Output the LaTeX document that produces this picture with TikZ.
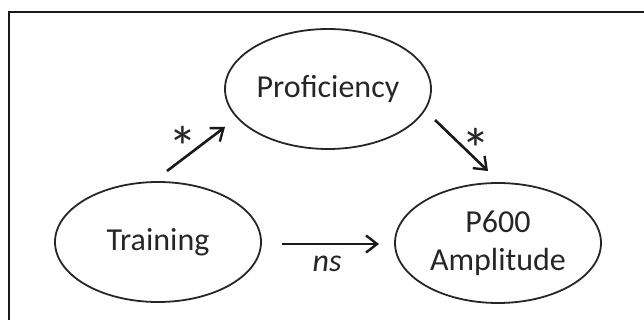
\documentclass[tikz,border=0pt]{standalone}
\usepackage{fontspec}
\setmainfont{Carlito}
\usetikzlibrary{shapes.geometric,arrows.meta}
\begin{document}
\begin{tikzpicture}[x=1pt,y=-1pt,
  var/.style={ellipse,draw=black!85,line width=1.8pt,minimum width=206pt,minimum height=120pt,inner sep=0pt,font=\fontsize{32}{36}\selectfont,align=center,text=black!85},
  conn/.style={line width=2.6pt,draw=black!90,-{Straight Barb[length=11pt,width=17pt,line width=2.4pt]}},
  lab/.style={font=\fontsize{32}{36}\selectfont,text=black!85,inner sep=0pt},
  star/.style={font=\fontsize{58}{60}\selectfont,text=black!85,inner sep=0pt}]
\useasboundingbox (0,0) rectangle (644,320);
\draw[line width=2.2pt,black!90] (9,320) -- (9,12) -- (644,12);
\node[var] (P) at (328,89) {Proficiency};
\node[var] (T) at (158,242) {Training};
\node[var] (A) at (498,243) {P600\\[2pt]Amplitude};
\coordinate (a1) at (167,171);
\coordinate (a2) at (225,127);
\coordinate (b1) at (435,120);
\coordinate (b2) at (488,171);
\coordinate (c1) at (282,244);
\coordinate (c2) at (379,244);
\draw[conn] (a1) -- (a2);
\draw[conn] (b1) -- (b2);
\draw[conn] (c1) -- (c2);
\node[star] (s1) at (183,147) {*};
\node[star] (s2) at (476,149) {*};
\node[lab] (ns) at (327,264) {\itshape ns};
\end{tikzpicture}
\end{document}
